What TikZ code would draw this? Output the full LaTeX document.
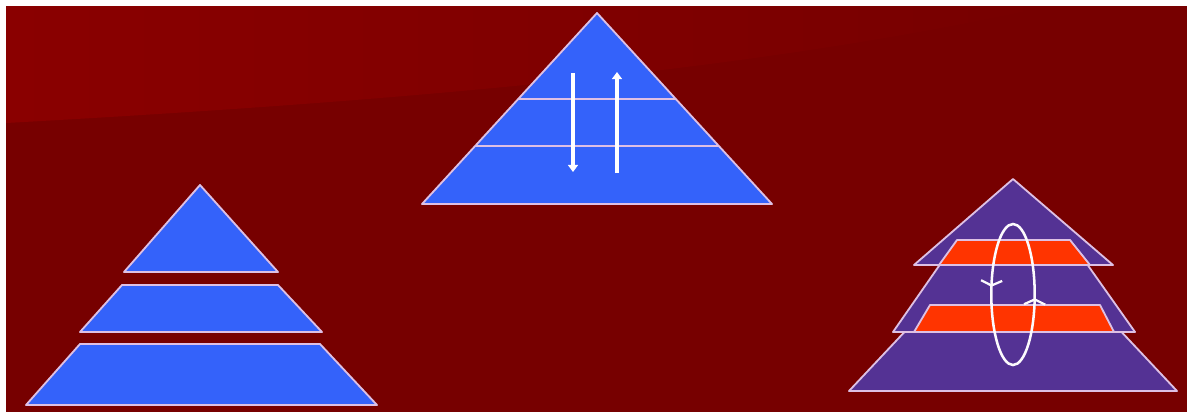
\documentclass[tikz,border=0pt]{standalone}
\usepackage{tikz}
\usetikzlibrary{arrows.meta,calc,decorations.markings}
\definecolor{bgRed}{RGB}{119,0,0}
\definecolor{bgLight}{RGB}{138,0,0}
\definecolor{layerBlue}{RGB}{52,98,250}
\definecolor{layerPurple}{RGB}{84,50,148}
\definecolor{overlapRed}{RGB}{255,52,0}
\definecolor{edgePink}{RGB}{222,192,228}

\begin{document}
\begin{tikzpicture}[x=0.025cm,y=-0.025cm,
    layer/.style={fill=layerBlue,draw=edgePink,line width=1.3pt,line join=round},
    purplelayer/.style={layer,fill=layerPurple},
    overlap/.style={layer,fill=overlapRed},
    divider/.style={draw=edgePink,line width=1pt},
    flow/.style={draw=white,line width=2.5pt,-{Triangle[width=7pt,length=5pt]}},
    cycleloop/.style={draw=white!92!edgePink,line width=1.8pt,
      decoration={markings,
        mark=at position 0.012 with {\arrowreversed{Straight Barb[width=15pt,length=3.5pt,line width=1.6pt]}},
        mark=at position 0.525 with {\arrowreversed{Straight Barb[width=15pt,length=3.5pt,line width=1.6pt]}}},
      postaction=decorate}]
  \useasboundingbox (0,0) rectangle (1190,417);
  \fill[white] (0,0) rectangle (1190,417);
  \fill[bgRed] (6,6) rectangle (1187,412);
  \shade[left color=bgLight,right color=bgRed]
    (6,6) -- (1050,6) .. controls (760,70) and (420,100) .. (6,123) -- cycle;

  % left pyramid, layers apart
  \draw[layer] (200,185) -- (278,272) -- (124,272) -- cycle;
  \draw[layer] (122,285) -- (278,285) -- (322,332) -- (80,332) -- cycle;
  \draw[layer] (80,344) -- (320,344) -- (377,405) -- (26,405) -- cycle;

  % top pyramid, one block
  \coordinate (apex) at (597,13);
  \coordinate (baseL) at (422,204);
  \coordinate (baseR) at (772,204);
  \draw[layer] (apex) -- (baseR) -- (baseL) -- cycle;
  \draw[divider] ($(apex)!0.45!(baseL)$) -- ($(apex)!0.45!(baseR)$);
  \draw[divider] ($(apex)!0.696!(baseL)$) -- ($(apex)!0.696!(baseR)$);
  \coordinate (downTop) at (573,73);
  \coordinate (downEnd) at (573,172);
  \coordinate (upBot) at (617,173);
  \coordinate (upEnd) at (617,72);
  \draw[flow] (downTop) -- (downEnd);
  \draw[flow] (upBot) -- (upEnd);

  % right pyramid, layers overlapping
  \draw[purplelayer] (911,325) -- (1115,325) -- (1177,391) -- (849,391) -- cycle;
  \draw[purplelayer] (957,240) -- (1070,240) -- (1135,332) -- (893,332) -- cycle;
  \draw[purplelayer] (1013,179) -- (1113,265) -- (914,265) -- cycle;
  \draw[overlap] (957,240) -- (1070,240) -- (1090,265) -- (939,265) -- cycle;
  \draw[overlap] (930,305) -- (1100,305) -- (1114,332) -- (914,332) -- cycle;
  \draw[cycleloop] (1013,294.5) ellipse (21.7 and 70.5);
\end{tikzpicture}
\end{document}
